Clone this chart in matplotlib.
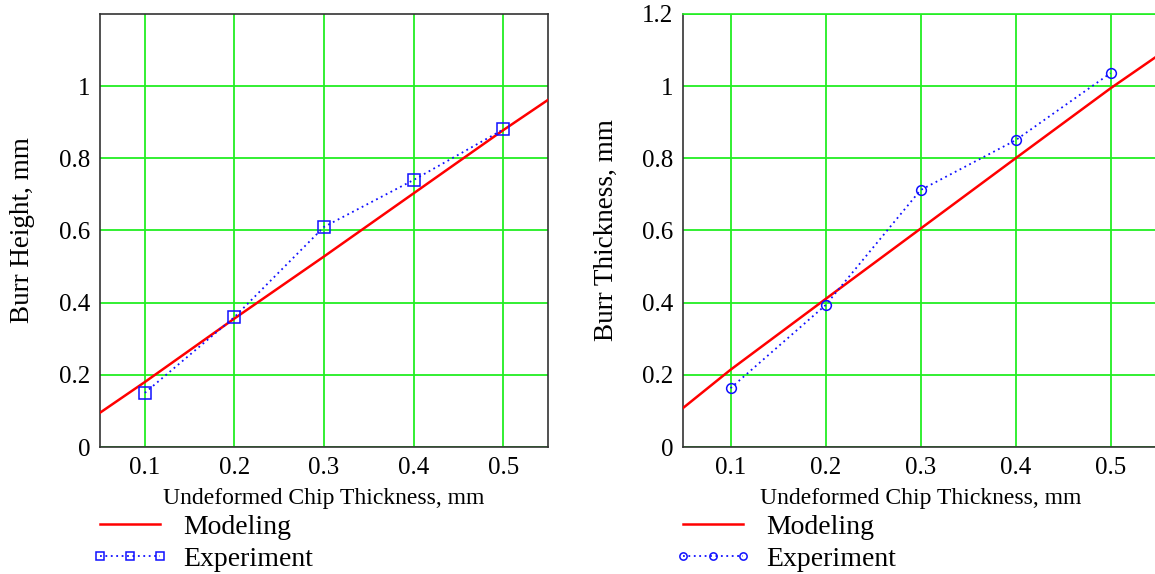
import matplotlib.pyplot as plt

plt.rcParams['font.family'] = ['Liberation Serif', 'DejaVu Serif']

# x values of experiment points and of the modeling curve
x_exp = [0.1, 0.2, 0.3, 0.4, 0.5]
x_model = [0.05, 0.1, 0.2, 0.3, 0.4, 0.5, 0.55]

# burr height (left panel)
height_exp = [0.15, 0.36, 0.61, 0.74, 0.88]
height_model = [0.095, 0.18, 0.356, 0.528, 0.703, 0.878, 0.962]

# burr thickness (right panel)
thick_exp = [0.163, 0.393, 0.712, 0.85, 1.036]
thick_model = [0.108, 0.214, 0.41, 0.605, 0.80, 0.994, 1.085]

x_ticks = [0.1, 0.2, 0.3, 0.4, 0.5]
x_ticklabels = ['0.1', '0.2', '0.3', '0.4', '0.5']

GREEN = '#22ee22'
BLUE = '#1010ff'
RED = '#ff0000'

fig = plt.figure(figsize=(11.55, 5.74), dpi=100)

# axes in figure fractions (right panel runs past the figure edge like the original)
ax1 = fig.add_axes([100 / 1155, 127 / 574, 448 / 1155, 433 / 574])
ax2 = fig.add_axes([683 / 1155, 127 / 574, 475 / 1155, 433 / 574])


def style(ax, yticks, ylabels, ylabel, marker, model, exp):
    ax.plot(x_model, model, color=RED, lw=1.8, label='Modeling', zorder=3)
    ax.plot(x_exp, exp, color=BLUE, ls=(0, (1, 2)), lw=1.3, marker=marker,
            ms=8 if marker == 's' else 7, mfc='none', mec=BLUE, mew=1.1,
            label='Experiment', zorder=4)
    ax.set_xlim(0.05, 0.55)
    ax.set_ylim(0, 1.2)
    ax.set_xticks(x_ticks)
    ax.set_xticklabels(x_ticklabels)
    ax.set_yticks(yticks)
    ax.set_yticklabels(ylabels)
    ax.tick_params(length=0, labelsize=18, pad=7)
    ax.grid(True, color=GREEN, lw=1.3)
    ax.set_axisbelow(True)
    for s in ax.spines.values():
        s.set_color('#333333')
        s.set_linewidth(1.2)
    ax.set_xlabel('Undeformed Chip Thickness, mm', fontsize=17, labelpad=7)
    ax.set_ylabel(ylabel, fontsize=19.5, labelpad=17)
    leg = ax.legend(loc='upper left', bbox_to_anchor=(-0.018, -0.155),
                    frameon=False, fontsize=20, handlelength=2.76,
                    handletextpad=0.53, labelspacing=0.25, borderaxespad=0,
                    borderpad=0, numpoints=3, markerscale=0.75)
    return leg


style(ax1, [0, 0.2, 0.4, 0.6, 0.8, 1.0], ['0', '0.2', '0.4', '0.6', '0.8', '1'],
      'Burr Height, mm', 's', height_model, height_exp)
style(ax2, [0, 0.2, 0.4, 0.6, 0.8, 1.0, 1.2],
      ['0', '0.2', '0.4', '0.6', '0.8', '1', '1.2'],
      'Burr Thickness, mm', 'o', thick_model, thick_exp)
ax2.spines['top'].set_color(GREEN)

fig.savefig('out.png', dpi=100)
